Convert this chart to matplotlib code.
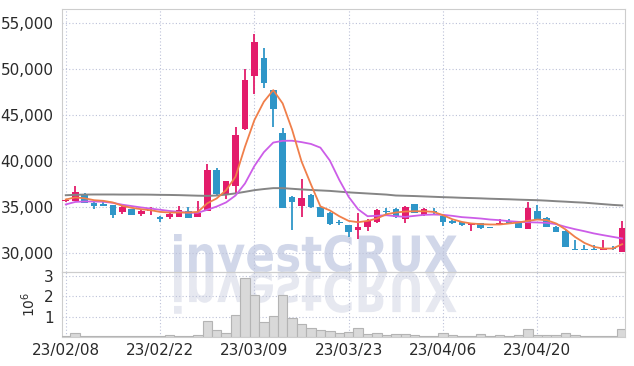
import numpy as np
import matplotlib
matplotlib.use("Agg")
import matplotlib.pyplot as plt
from matplotlib.textpath import TextPath
from matplotlib.patches import PathPatch
from matplotlib.path import Path
from matplotlib.font_manager import FontProperties

plt.rcParams['font.family'] = ['Liberation Sans Narrow', 'DejaVu Sans']

# daily OHLC (KRW), 60 trading days
opens = [35650, 35720, 36500, 35500, 35400, 35250, 34500, 34780, 34280, 34650,
         34000, 33980, 33980, 34600, 33980, 34630, 39050, 36450, 37350, 43480,
         49300, 51230, 47750, 43050, 36150, 35180, 36330, 35000, 34450, 33450,
         33080, 32530, 32890, 33400, 34600, 34780, 33700, 35360, 34160, 34580,
         34090, 33540, 33370, 33080, 33320, 32850, 33080, 33540, 33430, 32710,
         34630, 33910, 32890, 32460, 30500, 30500, 30500, 30360, 30610, 30170]
highs = [35950, 37300, 36550, 35550, 35650, 35300, 35150, 34800, 34750, 35050,
         34050, 34450, 35180, 35100, 35700, 39700, 39300, 37900, 43700, 50000,
         53800, 52280, 47800, 43590, 36300, 38040, 36500, 35050, 34500, 33600,
         33100, 34350, 33700, 34850, 34900, 34900, 35200, 35400, 34900, 34900,
         34150, 33650, 33400, 33350, 33350, 32900, 33700, 33800, 33450, 35610,
         35250, 33950, 32950, 32500, 31500, 30900, 30900, 31450, 30850, 33540]
lows = [35550, 35700, 35450, 34800, 35150, 33850, 34250, 34150, 34100, 34150,
        33450, 33800, 33950, 33850, 33950, 34600, 36400, 35900, 36500, 43400,
        47300, 47930, 43700, 34950, 32500, 33980, 34900, 33950, 33100, 33100,
        31820, 31600, 32450, 33300, 34150, 33900, 33300, 34350, 34100, 34150,
        33000, 33250, 33000, 32420, 32650, 32750, 33050, 33200, 32800, 32650,
        33750, 32850, 32300, 30700, 30350, 30350, 30350, 30350, 30400, 30150]
closes = [35850, 36650, 35520, 35180, 35200, 34150, 35050, 34160, 34630, 34750,
          33700, 34300, 34700, 33870, 34450, 39050, 36450, 37830, 42860, 48840,
          52970, 48480, 45720, 34960, 35540, 35980, 35000, 33980, 33150, 33300,
          32350, 32890, 33540, 34700, 34500, 33980, 35000, 34410, 34780, 34480,
          33440, 33350, 33080, 33300, 32820, 32800, 33320, 33260, 32820, 34960,
          33800, 32890, 32350, 30720, 30430, 30430, 30430, 30610, 30440, 32820]

# moving averages
ma5 = [35870, 36090, 36000, 35790, 35720, 35540, 35180, 34960, 34810, 34700,
       34520, 34450, 34450, 34450, 34520, 35450, 35980, 36880, 38330, 41590,
       44490, 46480, 47750, 46300, 43450, 40000, 37500, 35120, 34680, 34050,
       33540, 33400, 33540, 33800, 34270, 34450, 34560, 34590, 34590, 34520,
       34160, 33720, 33430, 33260, 33190, 33150, 33150, 33260, 33370, 33540,
       33690, 33620, 33260, 32610, 31800, 31150, 30720, 30540, 30540, 31010]
ma10 = [35330, 35600, 35650, 35650, 35620, 35500, 35300, 35150, 35000, 34880,
        34750, 34620, 34520, 34430, 34420, 34750, 35100, 35550, 36300, 37600,
        39500, 41000, 42050, 42240, 42250, 42100, 41900, 41500, 40100, 38000,
        36150, 34800, 34050, 34100, 34160, 34050, 33980, 34090, 34200, 34230,
        34200, 34090, 33950, 33880, 33800, 33690, 33620, 33510, 33440, 33400,
        33370, 33330, 33190, 32890, 32640, 32420, 32180, 31990, 31810, 31630]
ma_long = [36330, 36370, 36400, 36410, 36410, 36410, 36400, 36400, 36400, 36390,
           36370, 36360, 36340, 36310, 36280, 36260, 36300, 36400, 36530, 36700,
           36880, 37000, 37100, 37100, 37030, 36960, 36900, 36850, 36800, 36720,
           36640, 36580, 36520, 36460, 36400, 36300, 36270, 36240, 36200, 36160,
           36120, 36090, 36050, 36020, 35990, 35950, 35920, 35890, 35850, 35820,
           35790, 35740, 35680, 35630, 35570, 35520, 35440, 35360, 35280, 35220]

# volume in millions
volume = [0.06, 0.18, 0.04, 0.04, 0.04, 0.04, 0.04, 0.04, 0.04, 0.04,
          0.05, 0.12, 0.05, 0.05, 0.12, 0.79, 0.34, 0.21, 1.08, 2.89,
          2.07, 0.72, 1.03, 2.07, 0.92, 0.62, 0.43, 0.34, 0.30, 0.21,
          0.25, 0.43, 0.13, 0.18, 0.10, 0.13, 0.13, 0.08, 0.05, 0.06,
          0.18, 0.08, 0.05, 0.05, 0.15, 0.05, 0.08, 0.05, 0.10, 0.38,
          0.08, 0.08, 0.08, 0.18, 0.08, 0.05, 0.05, 0.05, 0.05, 0.38]

date_ticks = [0, 10, 20, 30, 40, 50]
date_labels = ["23/02/08", "23/02/22", "23/03/09", "23/03/23", "23/04/06", "23/04/20"]
price_ticks = [30000, 35000, 40000, 45000, 50000, 55000]

UP = "#e31c6b"
DOWN = "#2f96c8"
GRID = "#bcc1d8"
SPINE = "#cdcdcd"

W, H = 634, 366
fig = plt.figure(figsize=(W / 100, H / 100), dpi=100, facecolor="white")
ax = fig.add_axes([62 / W, (H - 272) / H, 563 / W, 263 / H])
axv = fig.add_axes([62 / W, (H - 337) / H, 563 / W, 65 / H], sharex=ax)
for a in (ax, axv):
    a.set_facecolor("none")
    for s in a.spines.values():
        s.set_color(SPINE)
    a.grid(True, color=GRID, linestyle=(0, (1, 2)), linewidth=0.8)
    a.set_axisbelow(True)
    a.tick_params(length=0, colors="#2a2a2a", labelsize=11)

x = np.arange(len(closes))
o = np.array(opens)
c = np.array(closes)
cols = [UP if cc >= oo else DOWN for oo, cc in zip(o, c)]

ax.vlines(x, lows, highs, colors=cols, linewidth=1.3, zorder=3)
body = np.maximum(np.abs(c - o), 70)
ax.bar(x, body, bottom=np.minimum(o, c), width=0.7, color=cols, zorder=4)

ax.plot(x, ma_long, color="#858585", linewidth=1.4, zorder=5)
ax.plot(x, ma10, color="#cc5de8", linewidth=1.3, zorder=5)
ax.plot(x, ma5, color="#f07f4a", linewidth=1.3, zorder=6)

ax.set_xlim(-0.4, 59.3)
ax.set_ylim(27990, 56560)
ax.set_yticks(price_ticks)
ax.set_yticklabels([f"{p:,}" for p in price_ticks])
ax.tick_params(axis="y", pad=6)
ax.tick_params(axis="x", labelbottom=False)

axv.bar(x, volume, width=1.0, color="#d9d9d9", edgecolor="#b4b4b4", linewidth=0.8, zorder=3)
axv.set_ylim(0, 3.2)
axv.set_yticks([1, 2, 3])
axv.set_yticklabels(["1", "2", "3"])
axv.tick_params(axis="y", pad=6)
axv.set_ylabel(r"$10^6$", fontsize=10, color="#2a2a2a", labelpad=4, family="DejaVu Sans")
axv.set_xticks(date_ticks)
axv.set_xticklabels(date_labels)
axv.tick_params(axis="x", pad=4)

# watermark with reflection
tp = TextPath((0, 0), "investCRUX", size=100,
              prop=FontProperties(family="DejaVu Sans", weight="bold"))
ext = tp.get_extents()
sx = (457 - 174) / (ext.x1 - ext.x0)
sy = (272 - 234) / ext.y1
v = tp.vertices
main = np.column_stack([(174 + (v[:, 0] - ext.x0) * sx) / W, (94 + v[:, 1] * sy) / H])
refl = np.column_stack([(174 + (v[:, 0] - ext.x0) * sx) / W, (94 - v[:, 1] * sy * 1.1) / H])
fig.add_artist(PathPatch(Path(main, tp.codes), facecolor="#c9d0e6", edgecolor="none",
                         alpha=0.85, transform=fig.transFigure, zorder=-1))
fig.add_artist(PathPatch(Path(refl, tp.codes), facecolor="#e4e6ef", edgecolor="none",
                         alpha=0.9, transform=fig.transFigure, zorder=-1))

fig.savefig("out.png", dpi=100, facecolor="white")
